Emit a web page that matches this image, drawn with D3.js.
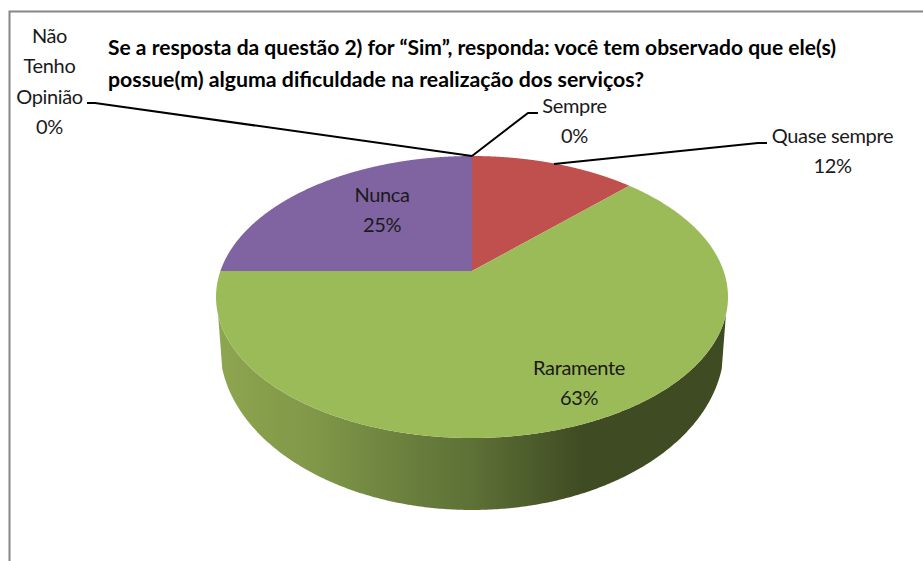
<!DOCTYPE html>
<html><head><meta charset="utf-8">
<script src="https://cdnjs.cloudflare.com/ajax/libs/d3/7.8.5/d3.min.js"></script>
<style>html,body{margin:0;padding:0;background:#fff}svg{display:block}text{font-family:Lato,"Noto Sans",sans-serif}</style>
</head><body><div id="c"></div>
<script>
const categories = ["Sempre","Quase sempre","Raramente","Nunca","Não Tenho Opinião"];
const values = [0,12.5,62.5,25,0];
const percentLabels = ["0%","12%","63%","25%","0%"];
const labelLines = [["Sempre"],["Quase sempre"],["Raramente"],["Nunca"],["Não","Tenho","Opinião"]];
const colors = ["#4f81bd","#c0504d","#9bbb59","#8064a2","#4bacc6"];
const titleLines = ["Se a resposta da questão 2) for “Sim”, responda: você tem observado que ele(s)","possue(m) alguma dificuldade na realização dos serviços?"];
const W=923,H=561;
const svg=d3.select("#c").append("svg").attr("width",W).attr("height",H);
const ax=472, ay=271, A=251.6, B=136.2, p=0.1844;
const proj=a=>{const x=Math.sin(a),y=-Math.cos(a),w=1-p*y;return [ax+A*x/w, ay+B*y/w];};
const ecy=297, lowCy=346, lowKx=0.985, lowKy=164/141;
const low=a=>{const q=proj(a);return [ax+(q[0]-ax)*lowKx, lowCy+(q[1]-ecy)*lowKy];};
const arcs=d3.pie().value(d=>d).sort(null)(values);
const line=d3.line().curve(d3.curveLinear);
const samples=(s,e)=>d3.range(0,481).map(i=>s+(e-s)*i/480);
const defs=svg.append("defs");
const g=defs.append("linearGradient").attr("id","wall").attr("gradientUnits","userSpaceOnUse").attr("x1",216).attr("x2",727).attr("y1",0).attr("y2",0);
[[0,"#8ea64f"],[0.2,"#7f9748"],[0.4,"#677c3c"],[0.5,"#5e7136"],[0.6,"#4f5f2d"],[0.72,"#3f4b22"],[1,"#3f4b22"]].forEach(s=>g.append("stop").attr("offset",s[0]).attr("stop-color",s[1]));
svg.append("path").attr("d",`M${9.5},${H}V${11.5}H${W}`).attr("fill","none").attr("stroke","#868686").attr("stroke-width",2);
const main=arcs[2];
const range=samples(main.startAngle,main.endAngle);
const wallPts=range.map(proj).filter(q=>q[1]>=315).concat(range.slice().reverse().map(low).filter(q=>q[1]>=368));
svg.append("path").attr("d",line(wallPts)+"Z").attr("fill","url(#wall)");
arcs.forEach((d,i)=>{ if(d.endAngle-d.startAngle<=0) return;
  const pts=[[ax,ay]].concat(samples(d.startAngle,d.endAngle).map(proj));
  svg.append("path").attr("d",line(pts)+"Z").attr("fill",colors[i]);
});
const titleY=[55,87], titleLen=[728,536];
titleLines.forEach((s,i)=>svg.append("text").attr("font-size",21).attr("font-weight",700).attr("fill","#000")
  .attr("x",108).attr("y",titleY[i]).attr("textLength",titleLen[i]).attr("lengthAdjust","spacingAndGlyphs").text(s));
const leaders=[
 [[472,156],[528,113],[538,113]],
 [[554,164],[758,143],[767,143]],
 [[472,156],[95,103],[87,103]]
];
leaders.forEach(l=>svg.append("path").attr("d",line(l)).attr("fill","none").attr("stroke","#000").attr("stroke-width",2));
const labelPos=[[574.5,113],[832.5,143],[579,375],[382,202],[49.5,43]];
const labelStep=[30,29.5,30,30,30.4];
arcs.forEach((d,i)=>{
  const lines=labelLines[i].concat([percentLabels[i]]);
  const tx=svg.append("text").attr("text-anchor","middle").attr("font-size",20).attr("letter-spacing",-0.35).attr("fill","#1a1a1a");
  lines.forEach((s,j)=>tx.append("tspan").attr("x",labelPos[i][0]).attr("y",labelPos[i][1]+j*labelStep[i]).text(s));
});
</script></body></html>
